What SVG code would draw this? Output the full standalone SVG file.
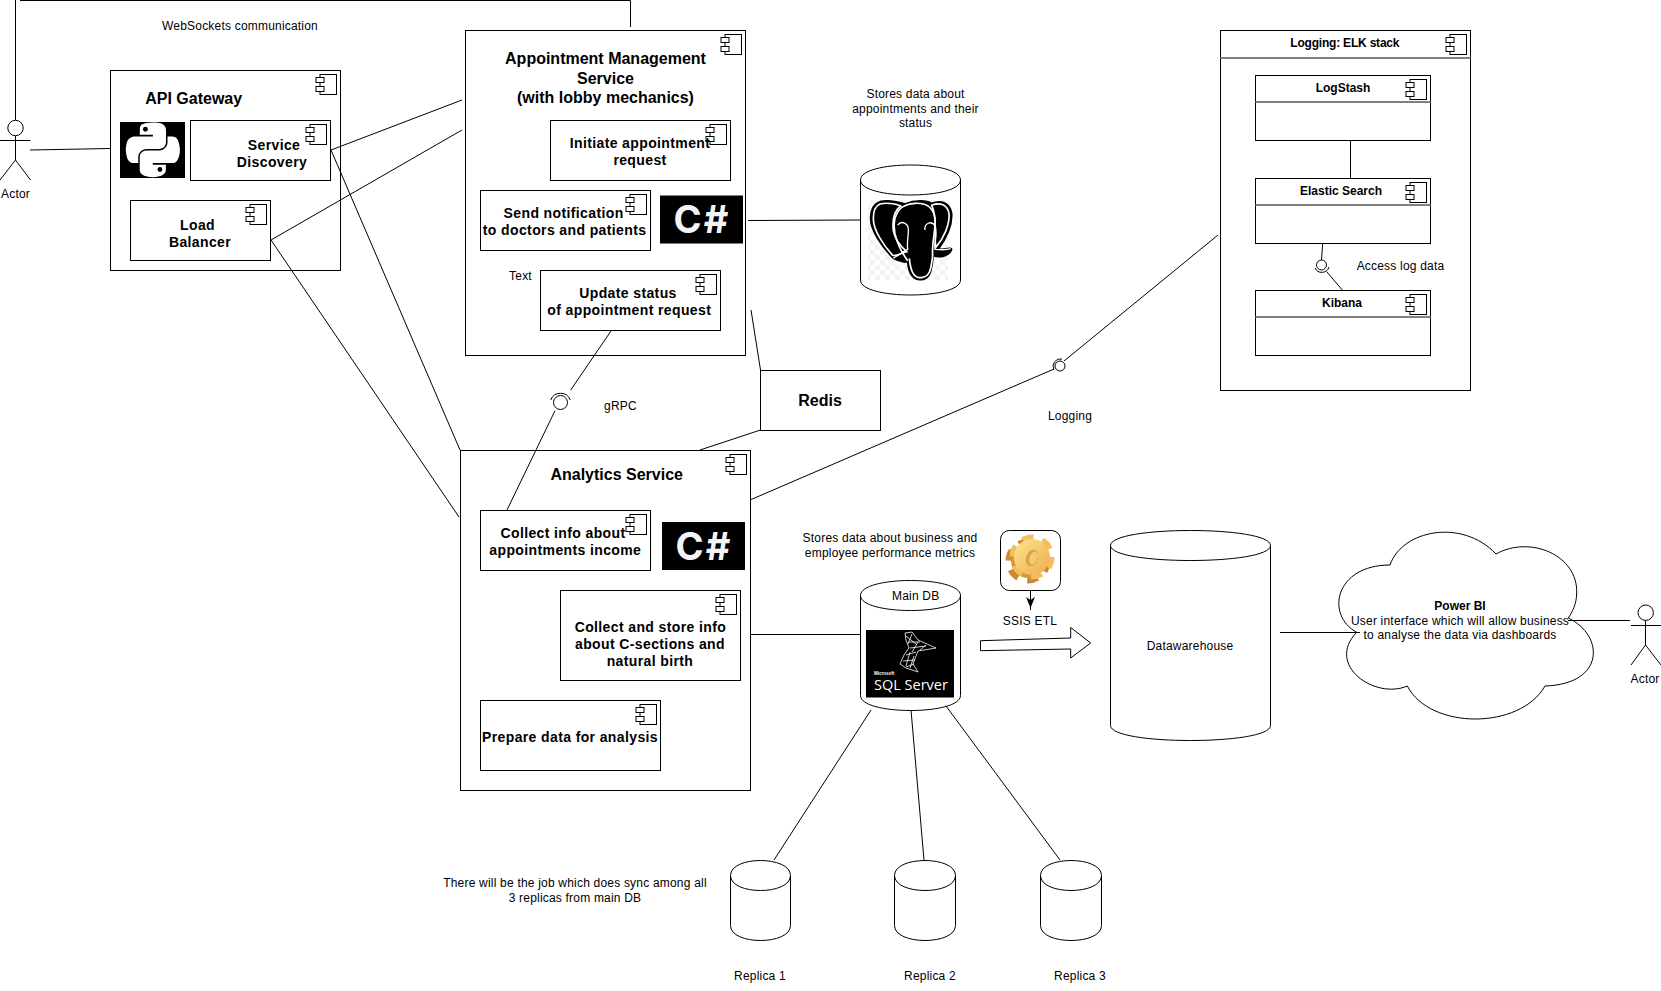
<svg xmlns="http://www.w3.org/2000/svg" width="1661" height="991" viewBox="0 0 1661 991">
<style>
text{font-family:"Liberation Sans",Arial,sans-serif;font-size:12px;fill:#000;text-anchor:middle;letter-spacing:.2px}
.b{font-weight:bold;font-size:14px;letter-spacing:.38px}
.h{font-weight:bold;font-size:16px;letter-spacing:0}
.s{font-weight:bold;letter-spacing:0}
.n{fill:#fff;stroke:#000;stroke-width:1}
.l{fill:none;stroke:#000;stroke-width:1}
.d{stroke:#808080;stroke-width:2;fill:none}
.k{fill:#000}
.c{fill:#f4f4f4;font-family:"Inter","Liberation Sans",sans-serif;font-weight:700;font-size:38px;letter-spacing:2px}
</style>
<defs>
<g id="ci"><rect class="n" x="4.5" y="4.5" width="16.500" height="20"/><rect class="n" x="0.500" y="7.500" width="8" height="5"/><rect class="n" x="0.500" y="16.500" width="8" height="5"/></g>
<pattern id="chk" width="10" height="10" patternUnits="userSpaceOnUse"><rect width="10" height="10" fill="#fff"/><rect width="5" height="5" fill="#f3f3f3"/><rect x="5" y="5" width="5" height="5" fill="#f3f3f3"/></pattern>
<linearGradient id="gr" x1="0" y1="0" x2="1" y2="1"><stop offset="0" stop-color="#fde48e"/><stop offset="1" stop-color="#eeac4c"/></linearGradient>
<g id="csharp"><rect class="k" width="83" height="48"/><text class="c" x="42" y="37.500">C#</text></g>
</defs>

<g id="actor-left">
<circle class="l" cx="15.500" cy="128" r="7.700"/><path class="l" d="M15.500 136V160M0 140.500H30.500M15.500 160L0 180M15.500 160L30.500 180"/>
<text x="15.500" y="198">Actor</text>
</g>
<text x="240" y="30">WebSockets communication</text>

<g id="api-gateway">
<rect class="n" x="110.500" y="70.500" width="230" height="200"/><use href="#ci" x="315.500" y="70"/>
<text class="h" x="193.700" y="104">API Gateway</text>
<rect class="k" x="120" y="122" width="65" height="56"/>
<g transform="translate(126 122.500) scale(.485)" fill="#fff">
<path d="M54.900 0C50.300 0 45.900 .4 42 1.100 30.600 3.100 28.500 7.300 28.500 15.100V25.400H55.500V28.800H18.400C10.500 28.800 3.600 33.500 1.500 42.500-1 52.800-1.100 59.200 1.500 69.900 3.400 77.900 8 83.600 15.900 83.600H25.200V71.200C25.200 62.300 32.900 54.400 42.100 54.400H69C76.500 54.400 82.500 48.200 82.500 40.700V15.100C82.500 7.800 76.300 2.300 69 1.100 64.600 .3 59.500 0 54.900 0Z"/>
<path d="M85.600 28.800V40.800C85.600 50.100 77.700 57.900 68.700 57.900H41.800C34.400 57.900 28.300 64.200 28.300 71.600V97.300C28.300 104.600 34.700 108.900 41.800 111 50.400 113.500 58.600 114 68.700 111 75.500 109 82.200 105.100 82.200 97.300V87.100H55.200V83.700H95.700C103.600 83.700 106.500 78.200 109.200 70 112 61.500 111.900 53.400 109.200 42.600 107.300 34.800 103.600 28.800 95.700 28.800Z"/>
<circle class="k" cx="40" cy="14" r="5"/><circle class="k" cx="70" cy="97" r="5"/>
</g>
</g>
<g id="service-discovery">
<rect class="n" x="190.500" y="120.500" width="140" height="60"/><use href="#ci" x="305.500" y="120"/>
<text class="b" x="274" y="150">Service</text><text class="b" x="272" y="167">Discovery</text>
</g>
<g id="load-balancer">
<rect class="n" x="130.500" y="200.500" width="140" height="60"/><use href="#ci" x="245.500" y="200"/>
<text class="b" x="197.500" y="230">Load</text><text class="b" x="200" y="247">Balancer</text>
</g>

<g id="appointment-service">
<rect class="n" x="465.500" y="30.500" width="280" height="325"/><use href="#ci" x="720.500" y="30"/>
<text class="h" x="605.500" y="64">Appointment Management</text><text class="h" x="605.500" y="84">Service</text><text class="h" x="605.500" y="103">(with lobby mechanics)</text>
<use href="#csharp" x="660" y="195.500"/>
<text x="520.500" y="280">Text</text>
</g>
<g id="initiate-request">
<rect class="n" x="550.500" y="120.500" width="180" height="60"/><use href="#ci" x="705.500" y="120"/>
<text class="b" x="640" y="148">Initiate appointment</text><text class="b" x="640" y="165">request</text>
</g>
<g id="send-notification">
<rect class="n" x="480.500" y="190.500" width="170" height="60"/><use href="#ci" x="625.500" y="190"/>
<text class="b" x="563.600" y="218">Send notification</text><text class="b" x="564.600" y="235">to doctors and patients</text>
</g>
<g id="update-status">
<rect class="n" x="540.500" y="270.500" width="180" height="60"/><use href="#ci" x="695.500" y="270"/>
<text class="b" x="628" y="298">Update status</text><text class="b" x="629.300" y="315">of appointment request</text>
</g>

<text x="620.500" y="410">gRPC</text>
<g id="redis"><rect class="n" x="760.500" y="370.500" width="120" height="60"/><text class="h" x="820" y="406">Redis</text></g>

<g id="analytics-service">
<rect class="n" x="460.500" y="450.500" width="290" height="340"/><use href="#ci" x="725.500" y="450"/>
<text class="h" x="616.700" y="480">Analytics Service</text>
<use href="#csharp" x="662" y="522"/>
</g>
<g id="collect-income">
<rect class="n" x="480.500" y="510.500" width="170" height="60"/><use href="#ci" x="625.500" y="510"/>
<text class="b" x="563" y="538">Collect info about</text><text class="b" x="565.300" y="555">appointments income</text>
</g>
<g id="collect-store">
<rect class="n" x="560.500" y="590.500" width="180" height="90"/><use href="#ci" x="715.500" y="590"/>
<text class="b" x="650.400" y="632">Collect and store info</text><text class="b" x="650" y="649">about C-sections and</text><text class="b" x="650" y="666">natural birth</text>
</g>
<g id="prepare-data">
<rect class="n" x="480.500" y="700.500" width="180" height="70"/><use href="#ci" x="635.500" y="700"/>
<text class="b" x="570" y="742">Prepare data for analysis</text>
</g>

<text x="915.500" y="98">Stores data about</text><text x="915.500" y="113">appointments and their</text><text x="915.500" y="127">status</text>
<g id="postgres">
<path class="n" d="M860.500 180C860.500 160 960.500 160 960.500 180V280C960.500 300 860.500 300 860.500 280Z"/>
<path class="l" d="M860.500 180C860.500 200 960.500 200 960.500 180"/>
<rect x="868" y="200" width="80" height="80" fill="url(#chk)"/>
<g transform="translate(860 190) scale(.3333)">
<path d="M60 35C90 28 120 38 135 42 165 30 200 30 215 40 245 28 270 40 275 70 278 110 255 150 235 178 255 178 275 172 275 178 270 195 245 205 220 198 215 230 215 262 190 268 160 275 145 250 143 215 130 220 110 210 100 205 70 175 30 120 32 85 32 55 45 40 60 35Z" fill="#000" stroke="#000" stroke-width="5"/>
<path d="M60 42C88 36 115 44 122 48 104 62 96 90 100 122 105 150 125 172 140 185 125 188 108 200 98 196 70 165 40 120 40 86 40 60 48 47 60 42ZM215 46C240 36 262 44 267 70 270 105 250 145 228 172 220 140 235 85 215 46Z" fill="none" stroke="#fff" stroke-width="5"/>
<path d="M143 212C120 180 95 130 105 85 115 55 130 43 165 40 195 38 215 50 223 75 232 110 214 150 218 198 213 232 212 258 188 262 162 268 152 245 148 205" fill="none" stroke="#fff" stroke-width="5"/>
<path d="M113 105C125 90 145 100 145 118 146 135 140 155 143 178 132 182 112 200 100 204M195 120C192 100 215 90 225 108 235 135 220 165 225 178 245 180 262 180 272 176" fill="none" stroke="#fff" stroke-width="4"/>
</g>
</g>

<text x="890" y="541.500">Stores data about business and</text><text x="890" y="556.500">employee performance metrics</text>
<g id="main-db">
<path class="n" d="M860.500 595.500C860.500 575.500 960.500 575.500 960.500 595.500V695.500C960.500 715.500 860.500 715.500 860.500 695.500Z"/>
<path class="l" d="M860.500 595.500C860.500 615.500 960.500 615.500 960.500 595.500"/>
<text x="915.700" y="600">Main DB</text>
<rect class="k" x="866" y="630" width="88" height="67.500"/>
<path fill="none" stroke="#fff" stroke-width=".8" d="M905 633L912 632L918 640L936 648L918 651L913 664L918 672L906 668L900 664L904 655L909 648L906 640ZM906 636L916 644M908 642L920 642M910 648L926 646M906 655L916 652M903 661L915 660M906 667L914 664M912 634L908 644M918 642L912 652M910 652L906 666M914 656L910 668M926 645L920 650"/>
<text x="874" y="675" style="text-anchor:start;fill:#fff;font-size:4.500px;font-weight:bold;letter-spacing:0">Microsoft</text>
<text x="874" y="690" style="text-anchor:start;fill:#fff;font-family:'Open Sans','Liberation Sans',sans-serif;font-size:14.500px;letter-spacing:0">SQL Server</text>
</g>

<g id="ssis-etl">
<rect class="n" x="1000.500" y="530.500" width="60" height="60" rx="9"/>
<circle cx="1028" cy="561" r="18" fill="none" stroke="#c98a34" stroke-width="9" stroke-dasharray="10 8.850"/><circle cx="1028" cy="561" r="17" fill="#d8963a"/>
<circle cx="1032" cy="557" r="17.500" fill="none" stroke="#f3bd5c" stroke-width="10" stroke-dasharray="10 8.320"/><circle cx="1032" cy="557" r="18" fill="url(#gr)"/>
<ellipse cx="1032" cy="558" rx="6" ry="8.500" fill="#dca348" transform="rotate(20 1032 558)"/><ellipse cx="1033.500" cy="558" rx="4" ry="6.500" fill="#f5cb6e" transform="rotate(20 1033.500 558)"/>
<text x="1030" y="625">SSIS ETL</text>
</g>
<path id="etl-arrow" class="n" d="M980.500 640.700L1070.700 638V627.500L1090.700 643L1070.700 658V649L980.500 650.700Z"/>

<g id="datawarehouse">
<path class="n" d="M1110.500 545.500C1110.500 525.500 1270.500 525.500 1270.500 545.500V725.500C1270.500 745.500 1110.500 745.500 1110.500 725.500Z"/>
<path class="l" d="M1110.500 545.500C1110.500 565.500 1270.500 565.500 1270.500 545.500"/>
<text x="1190" y="650">Datawarehouse</text>
</g>

<g id="power-bi">
<path class="n" d="M1390 565C1402 530 1462 518 1496 554C1530 535 1578 555 1576.700 593C1576.500 605 1572 612 1568.300 618C1604 635 1606 684 1545 686C1520 730 1430 730 1407.300 686C1375 700 1325 665 1356.700 632.300C1325 615 1335 565 1390 565Z"/>
<text class="s" x="1460" y="610">Power BI</text>
<text x="1460" y="625">User interface which will allow business</text>
<text x="1460" y="639">to analyse the data via dashboards</text>
</g>
<g id="actor-right">
<circle class="l" cx="1645.700" cy="612.700" r="7.700"/><path class="l" d="M1645.500 620.500V645M1631 625.500H1661M1645.500 645L1631 665M1645.500 645L1661 665"/>
<text x="1645" y="683">Actor</text>
</g>

<g id="elk-stack">
<rect class="n" x="1220.500" y="30.500" width="250" height="360"/><path class="d" d="M1220.500 58H1470.500"/><use href="#ci" x="1445.500" y="30"/>
<text class="s" x="1344.800" y="47" style="letter-spacing:-.2px">Logging: ELK stack</text>
</g>
<g id="logstash">
<rect class="n" x="1255.500" y="75.500" width="175" height="65"/><path class="d" d="M1255.500 102H1430.500"/><use href="#ci" x="1405.500" y="75"/>
<text class="s" x="1343" y="92">LogStash</text>
</g>
<g id="elastic">
<rect class="n" x="1255.500" y="178.500" width="175" height="65"/><path class="d" d="M1255.500 205H1430.500"/><use href="#ci" x="1405.500" y="178"/>
<text class="s" x="1341" y="195">Elastic Search</text>
</g>
<g id="kibana">
<rect class="n" x="1255.500" y="290.500" width="175" height="65"/><path class="d" d="M1255.500 317H1430.500"/><use href="#ci" x="1405.500" y="290"/>
<text class="s" x="1342" y="307">Kibana</text>
</g>
<text x="1400.500" y="270">Access log data</text>
<text x="1070" y="420">Logging</text>

<g id="replica-1"><path class="n" d="M730.500 875.500C730.500 855.500 790.500 855.500 790.500 875.500V925.500C790.500 945.500 730.500 945.500 730.500 925.500Z"/><path class="l" d="M730.500 875.500C730.500 895.500 790.500 895.500 790.500 875.500"/><text x="760" y="980">Replica 1</text></g>
<g id="replica-2"><path class="n" d="M894.500 875.500C894.500 855.500 955.500 855.500 955.500 875.500V925.500C955.500 945.500 894.500 945.500 894.500 925.500Z"/><path class="l" d="M894.500 875.500C894.500 895.500 955.500 895.500 955.500 875.500"/><text x="930" y="980">Replica 2</text></g>
<g id="replica-3"><path class="n" d="M1040.500 875.500C1040.500 855.500 1101.500 855.500 1101.500 875.500V925.500C1101.500 945.500 1040.500 945.500 1040.500 925.500Z"/><path class="l" d="M1040.500 875.500C1040.500 895.500 1101.500 895.500 1101.500 875.500"/><text x="1080" y="980">Replica 3</text></g>
<text x="575" y="887">There will be the job which does sync among all</text><text x="575" y="902">3 replicas from main DB</text>

<g id="connectors">
<path class="l" d="M15.500 0V120M20 .5H630.500V27"/>
<path class="l" d="M30 150L110 148.500"/>
<path class="l" d="M331 150L462 100M271 240L462 130M331 150L460 450M271 240L459 517"/>
<path class="l" d="M611 331L570.700 390M555 410.700L507 510"/>
<circle class="l" cx="560.500" cy="402.500" r="7"/><path class="l" d="M550.700 400A10.500 10.500 0 0 1 570.300 400"/>
<path class="l" d="M748 220.500L860 220M751 310L760.500 370M700 450L760.500 430"/>
<path class="l" d="M750 500L1054 369M1064 361L1218 235"/>
<circle class="l" cx="1060" cy="366" r="5"/><path class="l" d="M1054 370A7.500 7.500 0 0 1 1062 359"/>
<path class="l" d="M750 634.500H860M871 710L774 860M911 710L924 860M946 706L1060 860"/>
<path class="l" d="M1280 632.500H1360M1568 620.500H1630"/>
<path class="l" d="M1350.500 140.500V178.500M1322.700 243.500L1321.500 260M1326.700 271.700L1342.700 290.500"/>
<circle class="l" cx="1321.500" cy="265" r="5"/><path class="l" d="M1315 268A7.500 7.500 0 0 0 1329 267"/>
<path class="l" d="M1030.500 590.500V610"/><path class="k" d="M1030.500 608L1026 597L1030.500 600L1035 597Z"/>
</g>
</svg>
